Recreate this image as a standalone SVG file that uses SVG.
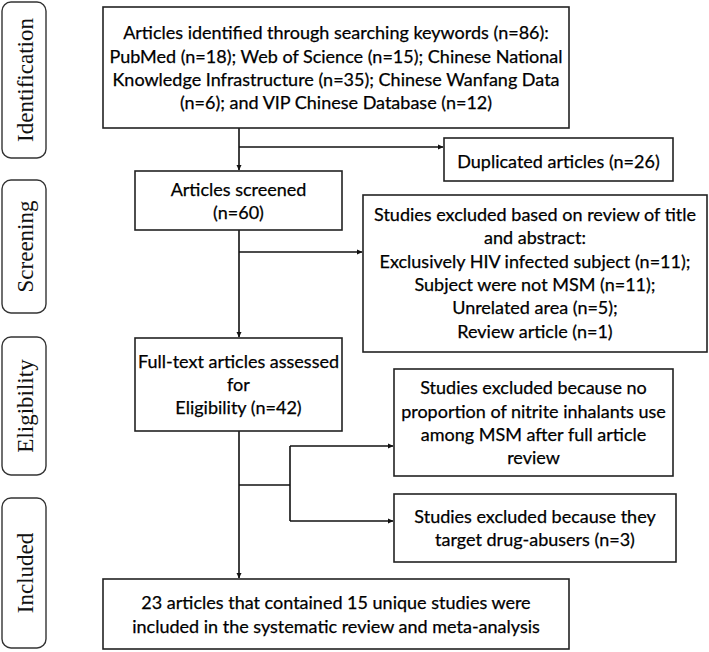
<svg xmlns="http://www.w3.org/2000/svg" width="709" height="652" viewBox="0 0 709 652">
<defs>
<style>
.box{fill:#fff;stroke:#222;stroke-width:1.6}
.side{fill:#fff;stroke:#333;stroke-width:1.4}
.t{font-family:Lato,"Liberation Sans",sans-serif;font-size:18px;fill:#000;stroke:#000;stroke-width:0.25;text-anchor:middle}
.s{font-family:"Liberation Serif","Times New Roman",serif;font-size:23px;fill:#111;text-anchor:middle}
.c{fill:none;stroke:#111;stroke-width:1.6}
</style>
<marker id="ah" markerWidth="6" markerHeight="6" refX="5" refY="3" orient="auto" markerUnits="userSpaceOnUse">
<path d="M0,0.5 L5.5,3 L0,5.5 Z" fill="#111"/>
</marker>
</defs>
<rect width="709" height="652" fill="#fff"/>

<g id="stage-identification"><rect class="side" x="2" y="2" width="44" height="156" rx="9"/><text class="s" transform="translate(33,80) rotate(-90)">Identification</text></g>
<g id="stage-screening"><rect class="side" x="2" y="180" width="44" height="133" rx="9"/><text class="s" transform="translate(33,246.5) rotate(-90)">Screening</text></g>
<g id="stage-eligibility"><rect class="side" x="2" y="337" width="44" height="138" rx="9"/><text class="s" transform="translate(33,406) rotate(-90)">Eligibility</text></g>
<g id="stage-included"><rect class="side" x="2" y="498" width="44" height="150" rx="9"/><text class="s" transform="translate(33,573) rotate(-90)">Included</text></g>

<g id="connectors">
<line class="c" x1="239" y1="128" x2="239" y2="170" marker-end="url(#ah)"/>
<line class="c" x1="239" y1="147" x2="443" y2="147" marker-end="url(#ah)"/>
<line class="c" x1="239" y1="230" x2="239" y2="337" marker-end="url(#ah)"/>
<line class="c" x1="239" y1="252" x2="362" y2="252" marker-end="url(#ah)"/>
<line class="c" x1="239" y1="431" x2="239" y2="578" marker-end="url(#ah)"/>
<line class="c" x1="239" y1="485" x2="290" y2="485"/>
<line class="c" x1="290" y1="446" x2="290" y2="521"/>
<line class="c" x1="290" y1="446" x2="393" y2="446" marker-end="url(#ah)"/>
<line class="c" x1="290" y1="521" x2="393" y2="521" marker-end="url(#ah)"/>
</g>

<g id="identified"><rect class="box" x="103" y="7" width="466" height="121"/>
<text class="t" x="336" y="39">Articles identified through searching keywords (n=86):</text>
<text class="t" x="336" y="63">PubMed (n=18); Web of Science (n=15); Chinese National</text>
<text class="t" x="336" y="86">Knowledge Infrastructure (n=35); Chinese Wanfang Data</text>
<text class="t" x="336" y="109">(n=6); and VIP Chinese Database (n=12)</text></g>

<g id="duplicated"><rect class="box" x="444" y="138" width="229" height="43"/>
<text class="t" x="558.5" y="168">Duplicated articles (n=26)</text></g>

<g id="screened"><rect class="box" x="135" y="171" width="207" height="59"/>
<text class="t" x="238.5" y="196">Articles  screened</text>
<text class="t" x="238.5" y="219">(n=60)</text></g>

<g id="excluded-title"><rect class="box" x="363" y="195" width="344" height="157"/>
<text class="t" x="535" y="221">Studies excluded based on review of title</text>
<text class="t" x="535" y="244">and abstract:</text>
<text class="t" x="535" y="268">Exclusively HIV infected subject (n=11);</text>
<text class="t" x="535" y="291">Subject were not MSM (n=11);</text>
<text class="t" x="535" y="314">Unrelated area (n=5);</text>
<text class="t" x="535" y="338">Review article (n=1)</text></g>

<g id="fulltext"><rect class="box" x="135" y="338" width="207" height="93"/>
<text class="t" x="238.5" y="368">Full-text articles assessed</text>
<text class="t" x="238.5" y="391">for</text>
<text class="t" x="238.5" y="414">Eligibility (n=42)</text></g>

<g id="excluded-proportion"><rect class="box" x="394" y="369" width="279" height="107"/>
<text class="t" x="533.5" y="394">Studies excluded because no</text>
<text class="t" x="533.5" y="418">proportion of nitrite inhalants use</text>
<text class="t" x="533.5" y="441">among MSM after full article</text>
<text class="t" x="533.5" y="464">review</text></g>

<g id="excluded-drug"><rect class="box" x="394" y="494" width="282" height="68"/>
<text class="t" x="535" y="523">Studies excluded because they</text>
<text class="t" x="535" y="546">target drug-abusers (n=3)</text></g>

<g id="included"><rect class="box" x="103" y="579" width="466" height="70"/>
<text class="t" x="336" y="609">23 articles that contained 15 unique studies were</text>
<text class="t" x="336" y="633">included in the systematic review and meta-analysis</text></g>
</svg>
